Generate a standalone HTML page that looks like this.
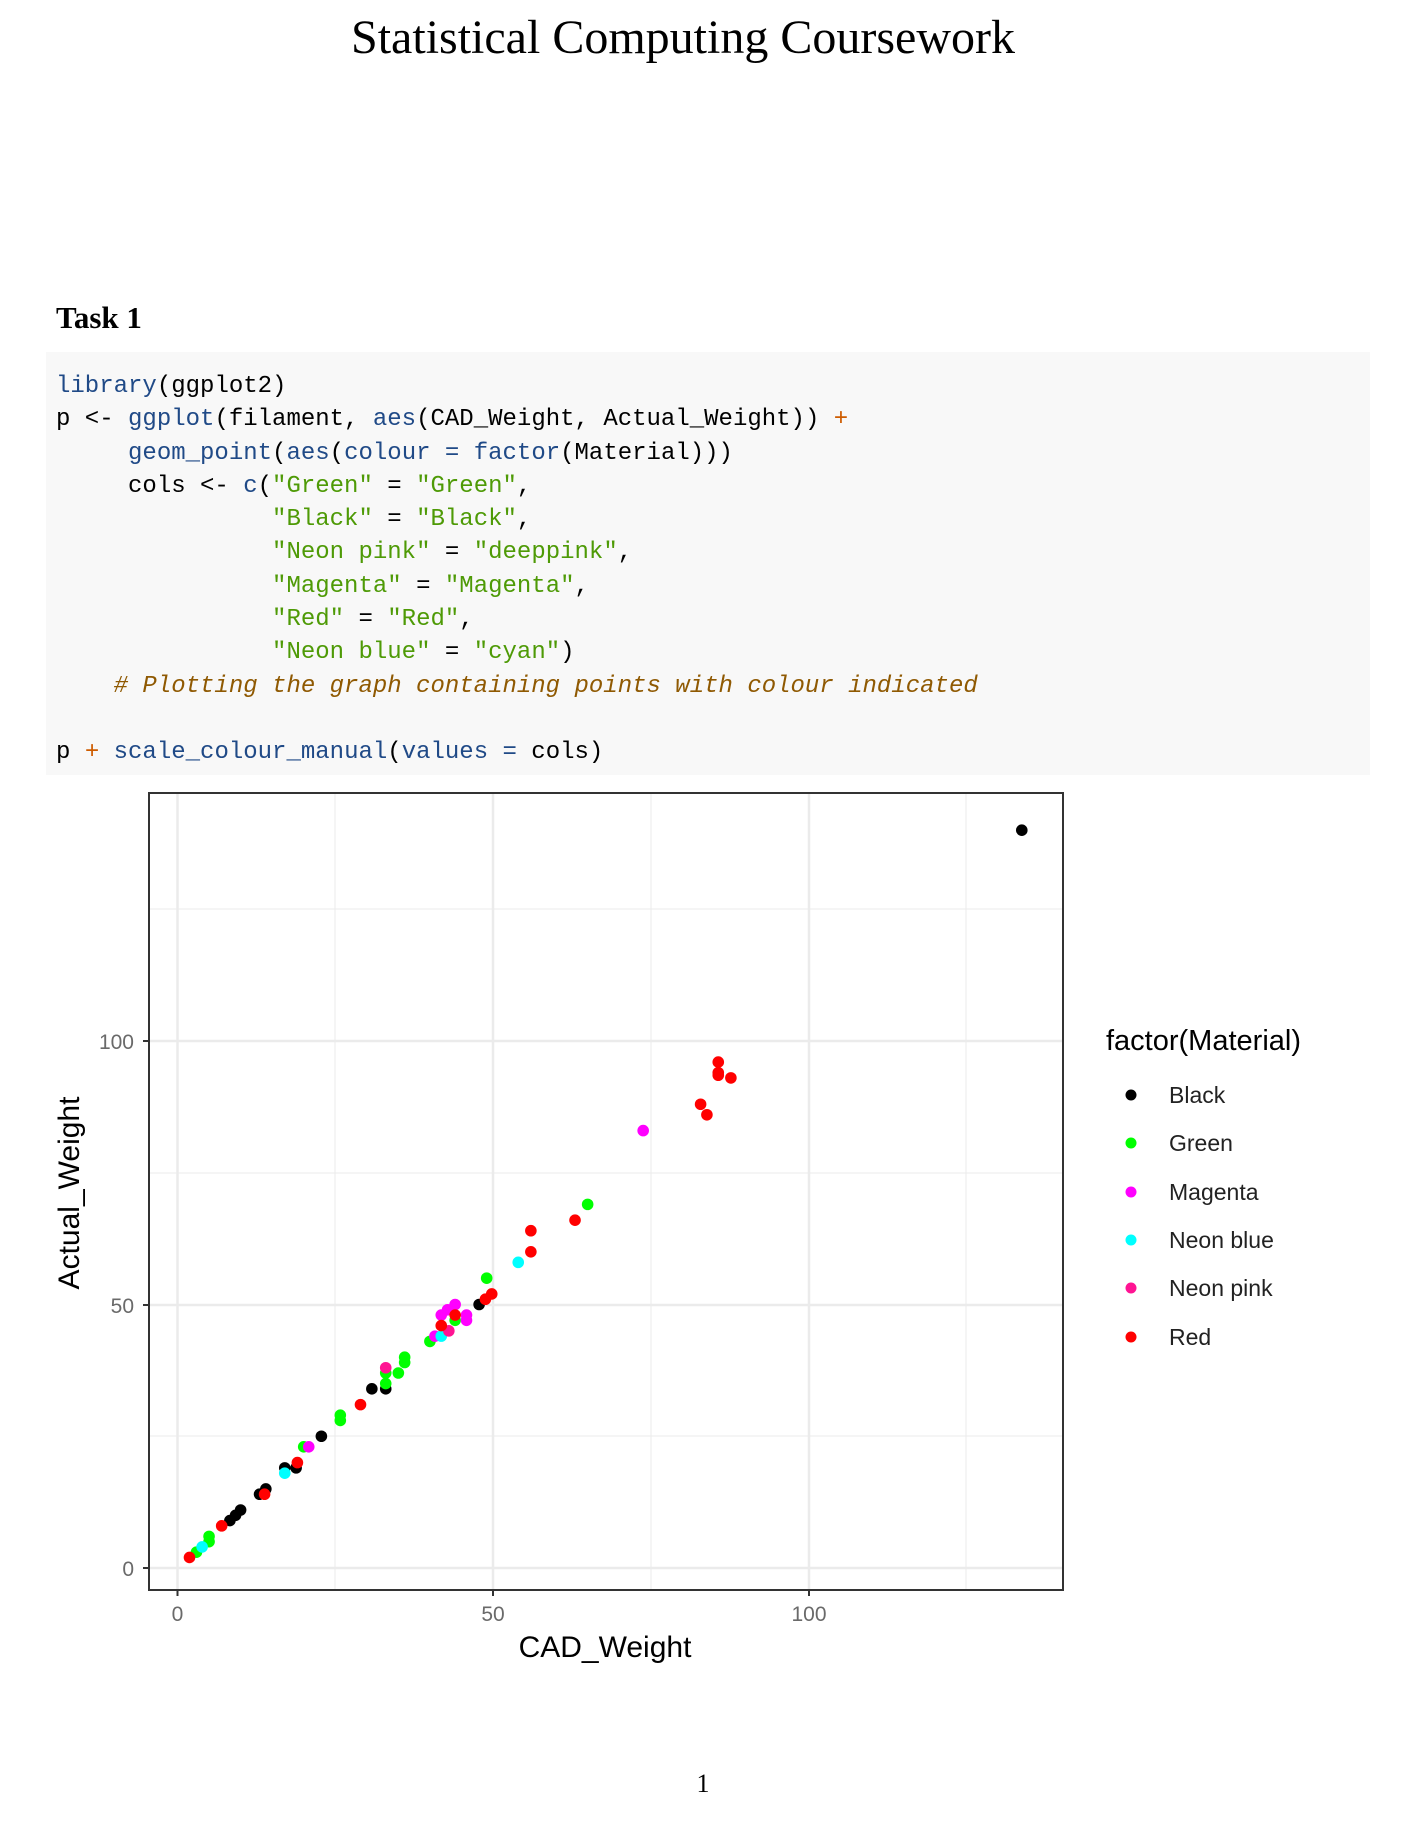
<!DOCTYPE html>
<html><head><meta charset="utf-8"><style>
body{margin:0;background:#fff;}
.pg{position:relative;width:1406px;height:1822px;overflow:hidden;background:#fff;}
.t{position:absolute;font-family:"Liberation Serif",serif;}
.code{position:absolute;left:46px;top:352px;width:1324px;height:423px;background:#f8f8f8;}
.code pre{margin:0;position:absolute;left:10px;top:18px;font-family:"Liberation Mono",monospace;font-size:24px;line-height:33.3px;color:#000;}
.k{color:#204a87}.s{color:#4e9a06}.o{color:#ce5c00}.c{color:#8f5902;font-style:italic}
svg{position:absolute;left:0;top:0;}
</style></head><body><div class="pg">
<div class="t" style="left:0;width:1366px;text-align:center;top:10px;font-size:48px;">Statistical Computing Coursework</div>
<div class="t" style="left:56px;top:300px;font-size:31px;font-weight:bold;">Task 1</div>
<div class="code"><pre><span class="k">library</span>(ggplot2)
p &lt;- <span class="k">ggplot</span>(filament, <span class="k">aes</span>(CAD_Weight, Actual_Weight)) <span class="o">+</span>
     <span class="k">geom_point</span>(<span class="k">aes</span>(<span class="k">colour =</span> <span class="k">factor</span>(Material)))
     cols &lt;- <span class="k">c</span>(<span class="s">"Green"</span> = <span class="s">"Green"</span>,
               <span class="s">"Black"</span> = <span class="s">"Black"</span>,
               <span class="s">"Neon pink"</span> = <span class="s">"deeppink"</span>,
               <span class="s">"Magenta"</span> = <span class="s">"Magenta"</span>,
               <span class="s">"Red"</span> = <span class="s">"Red"</span>,
               <span class="s">"Neon blue"</span> = <span class="s">"cyan"</span>)
    <span class="c"># Plotting the graph containing points with colour indicated</span>

p <span class="o">+</span> <span class="k">scale_colour_manual</span>(<span class="k">values =</span> cols)</pre></div>
<svg width="1406" height="1822" font-family="Liberation Sans, sans-serif">
<g stroke="#ebebeb">
<line x1="149" x2="1063" y1="1436" y2="1436" stroke-width="1"/>
<line x1="149" x2="1063" y1="1173" y2="1173" stroke-width="1"/>
<line x1="149" x2="1063" y1="909" y2="909" stroke-width="1"/>
<line x1="335" x2="335" y1="793" y2="1590" stroke-width="1"/>
<line x1="651" x2="651" y1="793" y2="1590" stroke-width="1"/>
<line x1="966" x2="966" y1="793" y2="1590" stroke-width="1"/>
<line x1="149" x2="1063" y1="1568" y2="1568" stroke-width="2.5"/>
<line x1="149" x2="1063" y1="1305" y2="1305" stroke-width="2.5"/>
<line x1="149" x2="1063" y1="1041" y2="1041" stroke-width="2.5"/>
<line x1="177.5" x2="177.5" y1="793" y2="1590" stroke-width="2.5"/>
<line x1="493" x2="493" y1="793" y2="1590" stroke-width="2.5"/>
<line x1="809" x2="809" y1="793" y2="1590" stroke-width="2.5"/>
</g>
<g id="pts"></g>
<rect x="149" y="793" width="914" height="797" fill="none" stroke="#333" stroke-width="2"/>
<g stroke="#333" stroke-width="2">
<line x1="143" x2="149" y1="1568" y2="1568"/><line x1="143" x2="149" y1="1305" y2="1305"/><line x1="143" x2="149" y1="1041" y2="1041"/>
<line x1="177.5" x2="177.5" y1="1590" y2="1596"/><line x1="493" x2="493" y1="1590" y2="1596"/><line x1="809" x2="809" y1="1590" y2="1596"/>
</g>
<g fill="#6a6a6a" font-size="21">
<text x="134" y="1576" text-anchor="end">0</text>
<text x="134" y="1313" text-anchor="end">50</text>
<text x="134" y="1049" text-anchor="end">100</text>
<text x="177.5" y="1621" text-anchor="middle">0</text>
<text x="493" y="1621" text-anchor="middle">50</text>
<text x="809" y="1621" text-anchor="middle">100</text>
</g>
<text x="605" y="1657" text-anchor="middle" font-size="30">CAD_Weight</text>
<text transform="translate(79,1193) rotate(-90)" text-anchor="middle" font-size="30">Actual_Weight</text>
<text x="1106" y="1050" font-size="29">factor(Material)</text>
<g font-size="23" fill="#222">
<circle cx="1131" cy="1095" r="5.5" fill="#000"/><text x="1169" y="1103">Black</text>
<circle cx="1131" cy="1143" r="5.5" fill="#00ff00"/><text x="1169" y="1151">Green</text>
<circle cx="1131" cy="1192" r="5.5" fill="#ff00ff"/><text x="1169" y="1200">Magenta</text>
<circle cx="1131" cy="1240" r="5.5" fill="#00ffff"/><text x="1169" y="1248">Neon blue</text>
<circle cx="1131" cy="1288" r="5.5" fill="#ff1493"/><text x="1169" y="1296">Neon pink</text>
<circle cx="1131" cy="1337" r="5.5" fill="#ff0000"/><text x="1169" y="1345">Red</text>
</g>
<text x="703" y="1792" text-anchor="middle" font-size="26" font-family="Liberation Serif, serif">1</text>
</svg>
<script>
var d={"#000":[[133.8,140],[30.8,34],[33,34],[47.8,50],[22.8,25],[17,19],[18.8,19],[13,14],[14,15],[8.3,9],[9.2,10],[10,11]],
"#00ff00":[[65,69],[49,55],[40,43],[36,40],[36,39],[35,37],[33,37],[33,35],[25.8,29],[25.8,28],[20,23],[5,6],[5,5],[3,3],[44,47]],
"#ff00ff":[[73.8,83],[20.8,23],[44,50],[42.8,49],[41.8,48],[45.8,48],[45.8,47],[40.8,44]],
"#00ffff":[[54,58],[17,18],[3.9,4],[41.8,44]],
"#ff1493":[[33,38],[43,45]],
"#ff0000":[[85.7,96],[85.7,93.5],[87.7,93],[85.7,94],[82.9,88],[83.9,86],[63,66],[56,64],[56,60],[49.8,52],[48.8,51],[44,48],[41.8,46],[29,31],[19,20],[13.8,14],[7,8],[1.9,2]]};
var g=document.getElementById("pts"),s="";
for(var c in d)d[c].forEach(function(p){s+='<circle cx="'+(177.5+6.31*p[0])+'" cy="'+(1568-5.27*p[1])+'" r="5.8" fill="'+c+'"/>';});
g.innerHTML=s;
</script>
</div></body></html>
